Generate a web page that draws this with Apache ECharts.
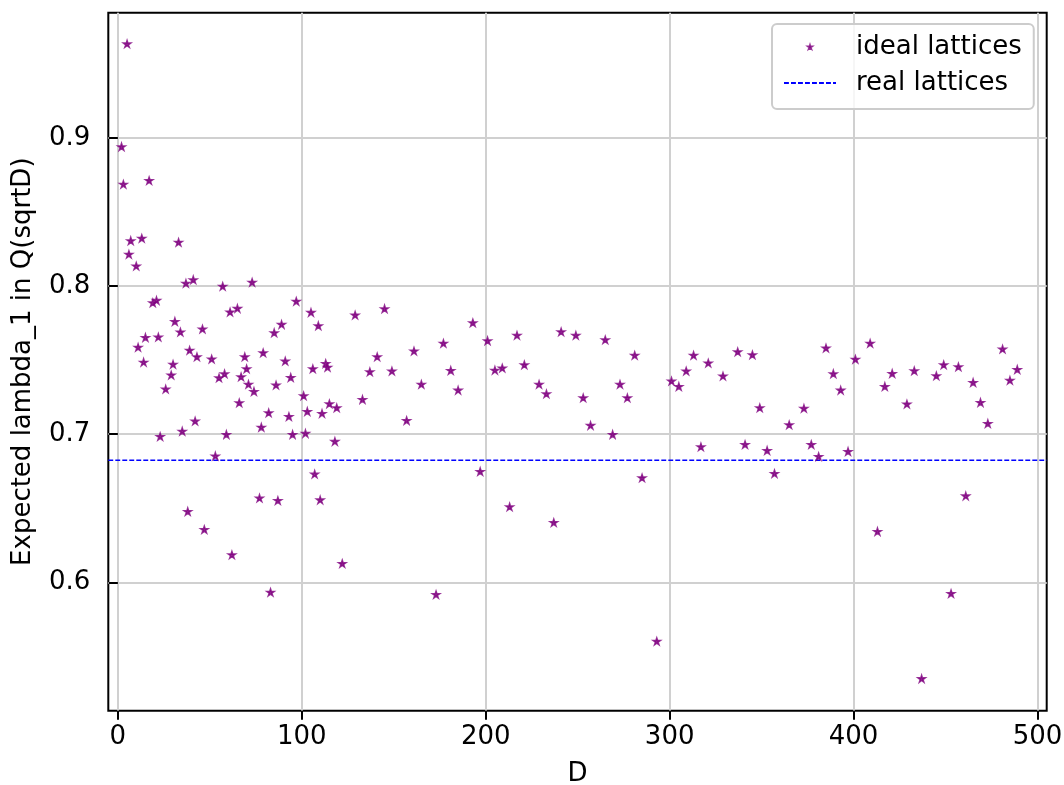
<!DOCTYPE html>
<html>
<head>
<meta charset="utf-8">
<script src="https://cdn.jsdelivr.net/npm/echarts@6.0.0/dist/echarts.min.js"></script>
<style>
html, body { margin: 0; padding: 0; background: #fff; }
#chart { width: 1064px; height: 785px; }
</style>
</head>
<body>
<div id="chart"></div>
<script>
// discriminants D and expected lambda_1
const dValues = [
  2, 3, 5, 6, 7, 10, 11, 13, 14, 15, 17, 19, 21, 22, 23, 26, 29, 30, 31, 33,
  34, 35, 37, 38, 39, 41, 42, 43, 46, 47, 51, 53, 55, 57, 58, 59, 61, 62, 65, 66,
  67, 69, 70, 71, 73, 74, 77, 78, 79, 82, 83, 85, 86, 87, 89, 91, 93, 94, 95, 97,
  101, 102, 103, 105, 106, 107, 109, 110, 111, 113, 114, 115, 118, 119, 122, 129, 133, 137, 141, 145,
  149, 157, 161, 165, 173, 177, 181, 185, 193, 197, 201, 205, 209, 213, 217, 221, 229, 233, 237, 241,
  249, 253, 257, 265, 269, 273, 277, 281, 285, 293, 301, 305, 309, 313, 317, 321, 329, 337, 341, 345,
  349, 353, 357, 365, 373, 377, 381, 385, 389, 393, 397, 401, 409, 413, 417, 421, 429, 433, 437, 445,
  449, 453, 457, 461, 465, 469, 473, 481, 485, 489
];
const lambdaValues = [
  0.8941, 0.8687, 0.9635, 0.8214, 0.8306, 0.8135, 0.7586, 0.8322, 0.7486, 0.7653, 0.8712, 0.7887, 0.7903, 0.7655, 0.6984, 0.7304, 0.7399, 0.7471, 0.7761, 0.8295,
  0.7689, 0.7020, 0.8018, 0.6478, 0.7566, 0.8043, 0.7088, 0.7522, 0.7710, 0.6356, 0.7507, 0.6853, 0.7380, 0.7998, 0.7407, 0.6998, 0.7824, 0.6185, 0.7849, 0.7212,
  0.7387, 0.7522, 0.7441, 0.7336, 0.8025, 0.7288, 0.6568, 0.7047, 0.7549, 0.7144, 0.5932, 0.7685, 0.7331, 0.6552, 0.7741, 0.7493, 0.7119, 0.7383, 0.6998, 0.7897,
  0.7259, 0.7005, 0.7153, 0.7822, 0.7441, 0.6730, 0.7732, 0.6556, 0.7140, 0.7477, 0.7451, 0.7205, 0.6951, 0.7178, 0.6126, 0.7804, 0.7234, 0.7421, 0.7522, 0.7847,
  0.7426, 0.7092, 0.7561, 0.7336, 0.5917, 0.7613, 0.7430, 0.7297, 0.7752, 0.6748, 0.7631, 0.7432, 0.7446, 0.6509, 0.7667, 0.7468, 0.7336, 0.7272, 0.6403, 0.7691,
  0.7667, 0.7245, 0.7059, 0.7637, 0.6998, 0.7336, 0.7245, 0.7532, 0.6705, 0.5601, 0.7358, 0.7322, 0.7426, 0.7532, 0.6914, 0.7480, 0.7392, 0.7556, 0.6930, 0.7536,
  0.7178, 0.6890, 0.6734, 0.7063, 0.7174, 0.6930, 0.6849, 0.7581, 0.7408, 0.7297, 0.6883, 0.7505, 0.7613, 0.6343, 0.7322, 0.7410, 0.7203, 0.7428, 0.5349, 0.7394,
  0.7468, 0.5924, 0.7455, 0.6583, 0.7349, 0.7214, 0.7072, 0.7574, 0.7363, 0.7437
];
const realLambda = 0.6824;
const xTicks = [0, 100, 200, 300, 400, 500];
const yTicks = [0.6, 0.7, 0.8, 0.9];
const xMin = -5.2, xMax = 505;
const yMin = 0.5133, yMax = 0.9846;

const font = 'DejaVu Sans';
const starShape = 'M0,-100L22.45,-30.9L95.1,-30.9L36.3,11.8L58.8,80.9L0,38.2L-58.8,80.9L-36.3,11.8L-95.1,-30.9L-22.45,-30.9Z';
const starPath = 'path://' + starShape;
// same star with empty room around it so the legend draws it small
const legendStar = 'path://M-200,-200M200,180' + starShape;

const idealData = dValues.map((d, i) => [d, lambdaValues[i]]);

const axisCommon = {
    axisLine: { show: false },
    axisTick: { show: true, inside: false, length: 9, lineStyle: { color: '#000', width: 2 } },
    splitLine: { show: true, lineStyle: { color: '#d0d0d0', width: 2 } },
    axisLabel: { color: '#000', fontFamily: font, fontSize: 26 },
    nameTextStyle: { color: '#000', fontFamily: font, fontSize: 26 }
};

const option = {
    animation: false,
    backgroundColor: '#fff',
    grid: {
        left: 108.3, right: 17.3, top: 12.7, bottom: 74.3,
        show: true, borderColor: '#000', borderWidth: 2,
        outerBoundsMode: 'none'
    },
    legend: {
        orient: 'vertical',
        left: 772, top: 24,
        padding: [10, 12, 13, 11],
        itemGap: 10,
        itemWidth: 52,
        itemHeight: 7,
        backgroundColor: 'rgba(255,255,255,0.8)',
        borderColor: '#cccccc',
        borderWidth: 2,
        borderRadius: 5,
        textStyle: { color: '#000', fontFamily: font, fontSize: 26, lineHeight: 26, padding: [0, 0, 0, 15] },
        data: [
            { name: 'ideal lattices', icon: legendStar },
            { name: 'real lattices', itemStyle: { opacity: 0 } }
        ]
    },
    xAxis: {
        ...axisCommon,
        type: 'value',
        min: xMin, max: xMax,
        name: 'D',
        nameLocation: 'middle',
        nameGap: 51,
        axisTick: { ...axisCommon.axisTick, customValues: xTicks },
        axisLabel: { ...axisCommon.axisLabel, customValues: xTicks, margin: 14 }
    },
    yAxis: {
        ...axisCommon,
        type: 'value',
        min: yMin, max: yMax,
        name: 'Expected lambda_1 in Q(sqrtD)',
        nameLocation: 'middle',
        nameGap: 72,
        nameRotate: 90,
        axisTick: { ...axisCommon.axisTick, customValues: yTicks },
        axisLabel: { ...axisCommon.axisLabel, customValues: yTicks, margin: 18 }
    },
    series: [
        {
            name: 'ideal lattices',
            type: 'scatter',
            data: idealData,
            symbol: starPath,
            symbolKeepAspect: true,
            symbolSize: 7,
            itemStyle: { color: '#800080', borderColor: '#800080', borderWidth: 1.6 },
            z: 3
        },
        {
            name: 'real lattices',
            type: 'line',
            data: [[xMin, realLambda], [xMax, realLambda]],
            symbol: 'none',
            lineStyle: { color: '#0000ff', width: 1.3, type: [4.9, 2.1] },
            itemStyle: { color: '#0000ff' },
            z: 2
        }
    ]
};

const myChart = echarts.init(document.getElementById('chart'));
myChart.setOption(option);
</script>
</body>
</html>
